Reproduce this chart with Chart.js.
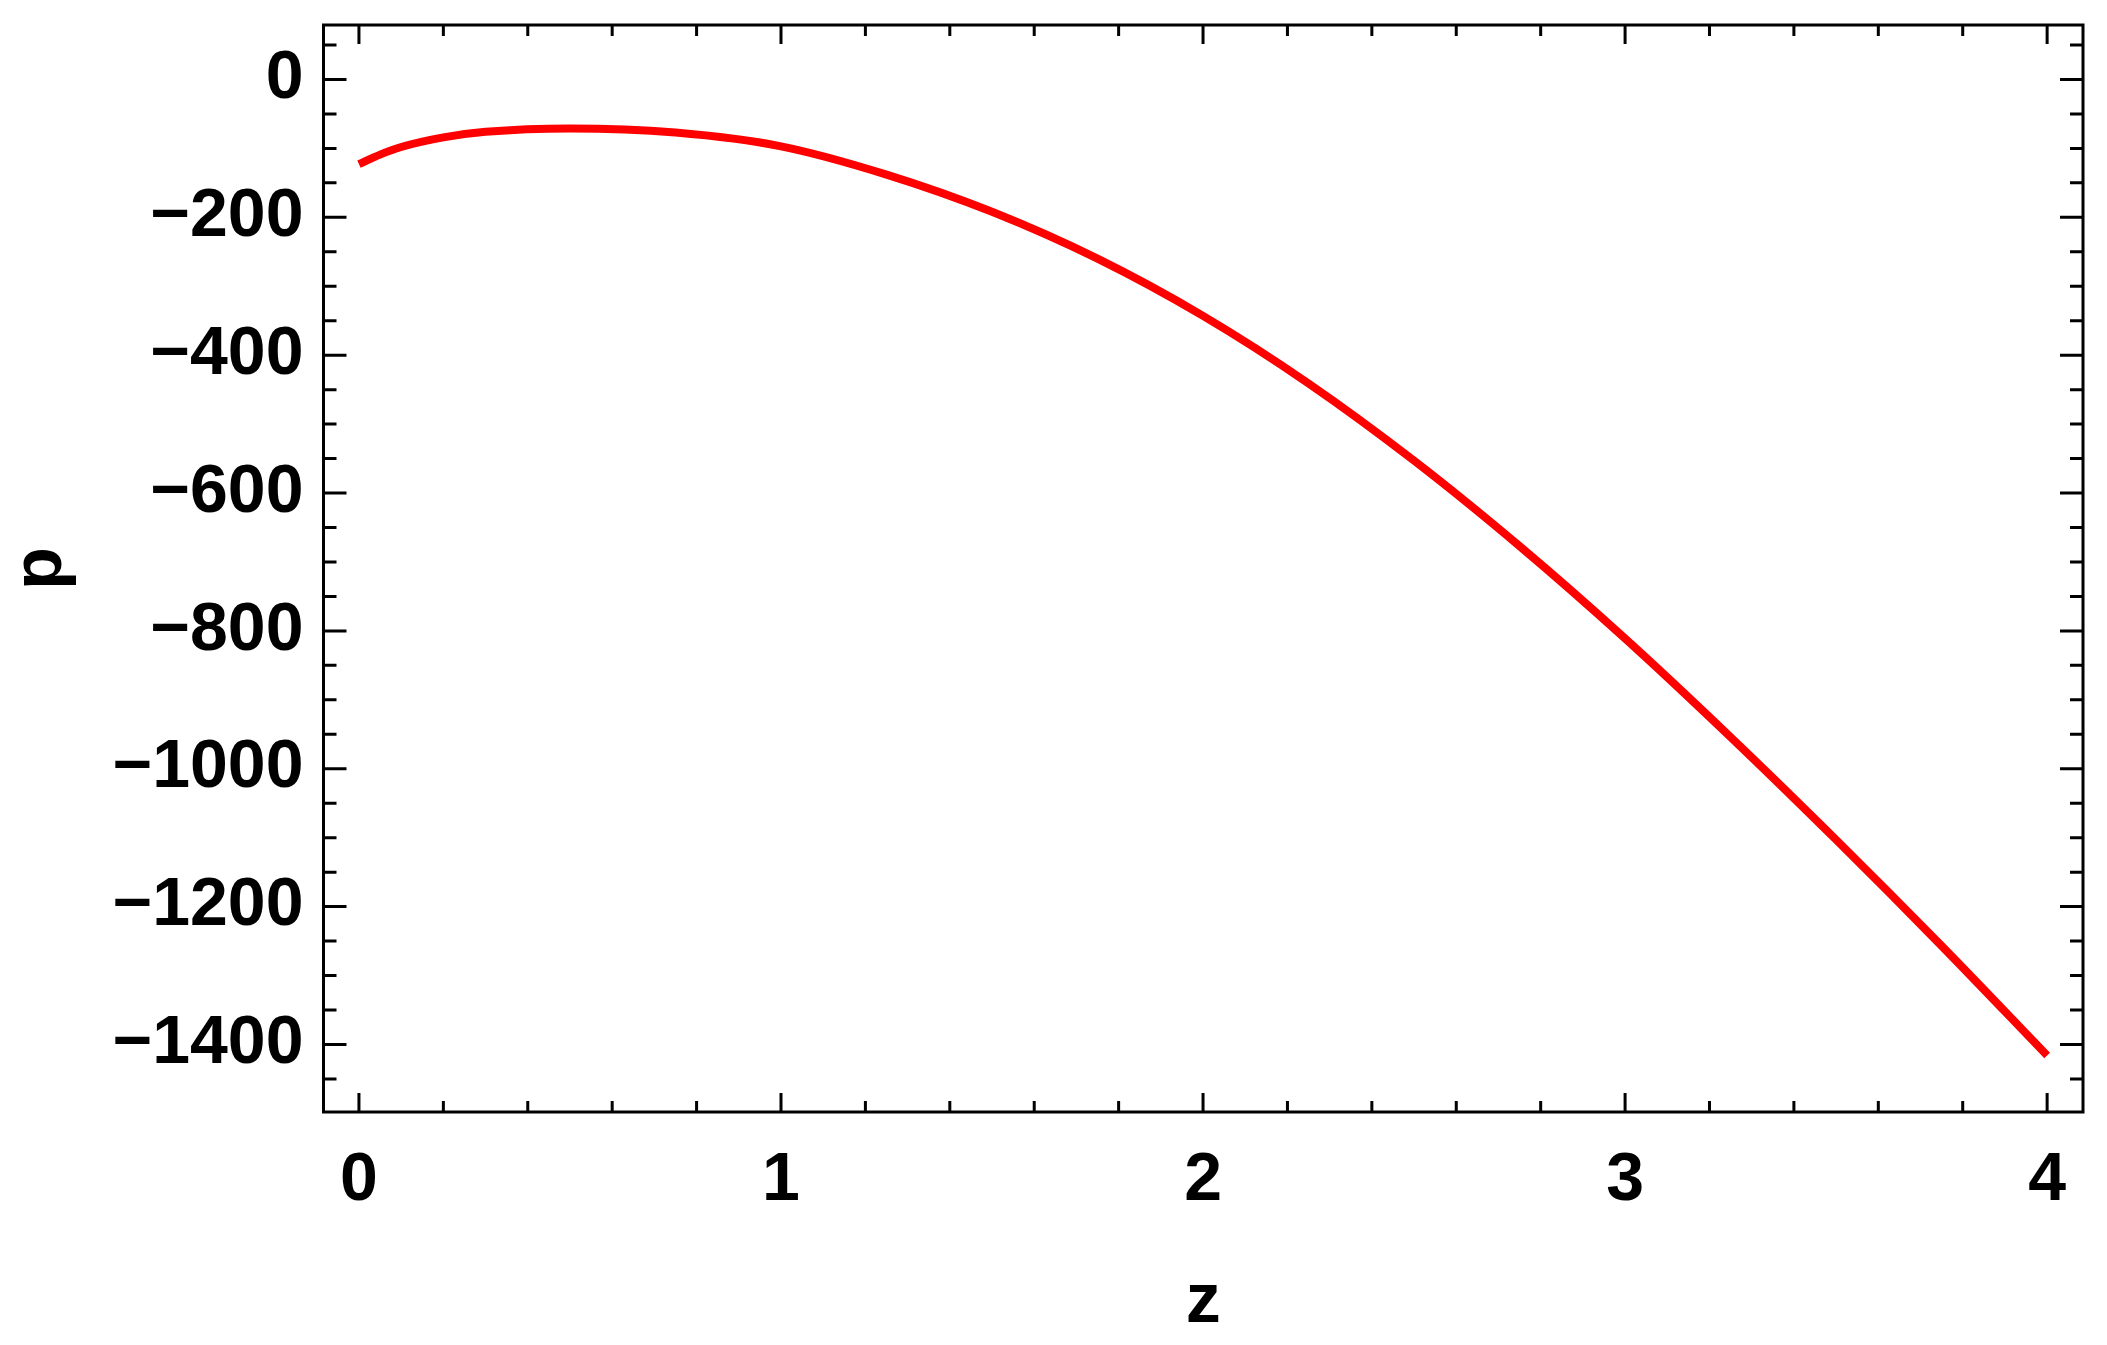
<!DOCTYPE html>
<html>
<head>
<meta charset="utf-8">
<script src="https://cdn.jsdelivr.net/npm/chart.js@4"></script>
<style>
  body { margin: 0; background: #ffffff; }
  canvas { display: block; }
</style>
</head>
<body>
<canvas id="plotChart" width="2107" height="1345"></canvas>
<script>
// data
const zValues = [0, 0.05, 0.1, 0.2, 0.3, 0.5, 0.75, 1, 1.25, 1.5, 1.75, 2, 2.25, 2.5, 2.75, 3, 3.25, 3.5, 3.75, 4];
const pValues = [-123, -109, -98, -84, -76, -71, -77, -97, -138, -192, -260, -343, -441, -553, -677, -811, -954, -1103, -1257, -1416];

const xTicks = [0, 1, 2, 3, 4];
const yTicks = [0, -200, -400, -600, -800, -1000, -1200, -1400];

const fontFamily = "'Liberation Sans', Arial, sans-serif";

// frame with inward ticks on all four sides
const framePlugin = {
    id: "frame",
    afterDraw(chart) {
        const ctx = chart.ctx;
        const a = chart.chartArea;
        const xs = chart.scales.x;
        const ys = chart.scales.y;
        ctx.save();
        ctx.strokeStyle = "#000000";
        ctx.lineWidth = 3;
        ctx.strokeRect(a.left, a.top, a.right - a.left, a.bottom - a.top);

        ctx.beginPath();
        // x ticks, minor every 0.2
        for (let i = 0; i <= 20; i++) {
            const v = i * 0.2;
            const px = xs.getPixelForValue(v);
            const len = (i % 5 === 0) ? 19 : 11;
            ctx.moveTo(px, a.bottom);
            ctx.lineTo(px, a.bottom - len);
            ctx.moveTo(px, a.top);
            ctx.lineTo(px, a.top + len);
        }
        // y ticks, minor every 50
        for (let v = 50; v >= -1450; v -= 50) {
            const py = ys.getPixelForValue(v);
            const len = (v % 200 === 0) ? 23 : 13;
            ctx.moveTo(a.left, py);
            ctx.lineTo(a.left + len, py);
            ctx.moveTo(a.right, py);
            ctx.lineTo(a.right - len, py);
        }
        ctx.stroke();
        ctx.restore();
    }
};

const ctx = document.getElementById("plotChart").getContext("2d");

new Chart(ctx, {
    type: "line",
    data: {
        datasets: [
            {
                data: zValues.map((z, i) => ({ x: z, y: pValues[i] })),
                borderColor: "#ff0000",
                borderWidth: 8,
                borderCapStyle: "butt",
                pointRadius: 0,
                fill: false,
                cubicInterpolationMode: "monotone",
            },
        ],
    },
    options: {
        responsive: false,
        animation: false,
        layout: { padding: { top: 25, right: 24, left: 0, bottom: 0 } },
        plugins: {
            legend: { display: false },
            tooltip: { enabled: false },
        },
        scales: {
            x: {
                type: "linear",
                min: -0.084,
                max: 4.085,
                afterFit: (scale) => {
                    scale.height = 233;
                    scale.paddingLeft = 0;
                    scale.paddingRight = 0;
                },
                afterBuildTicks: (scale) => { scale.ticks = xTicks.map((v) => ({ value: v })); },
                grid: { display: false, drawTicks: false },
                border: { display: false },
                ticks: {
                    includeBounds: false,
                    padding: 28,
                    maxRotation: 0,
                    color: "#000000",
                    font: { family: fontFamily, size: 68, weight: "bold" },
                },
                title: {
                    display: true,
                    text: "z",
                    color: "#000000",
                    padding: { top: 0, bottom: 0 },
                    font: { family: fontFamily, size: 70, weight: "bold" },
                },
            },
            y: {
                type: "linear",
                min: -1498,
                max: 79,
                afterFit: (scale) => {
                    scale.width = 323.5;
                    scale.paddingTop = 0;
                    scale.paddingBottom = 0;
                },
                afterBuildTicks: (scale) => { scale.ticks = yTicks.map((v) => ({ value: v })); },
                grid: { display: false, drawTicks: false },
                border: { display: false },
                ticks: {
                    includeBounds: false,
                    padding: 20,
                    color: "#000000",
                    font: { family: fontFamily, size: 68, weight: "bold" },
                    callback: function (value) {
                        return value < 0 ? "\u2212" + Math.abs(value) : String(value);
                    },
                },
                title: {
                    display: true,
                    text: "p",
                    color: "#000000",
                    padding: { top: 0, bottom: 0 },
                    font: { family: fontFamily, size: 70, weight: "bold" },
                },
            },
        },
    },
    plugins: [framePlugin],
});
</script>
</body>
</html>
